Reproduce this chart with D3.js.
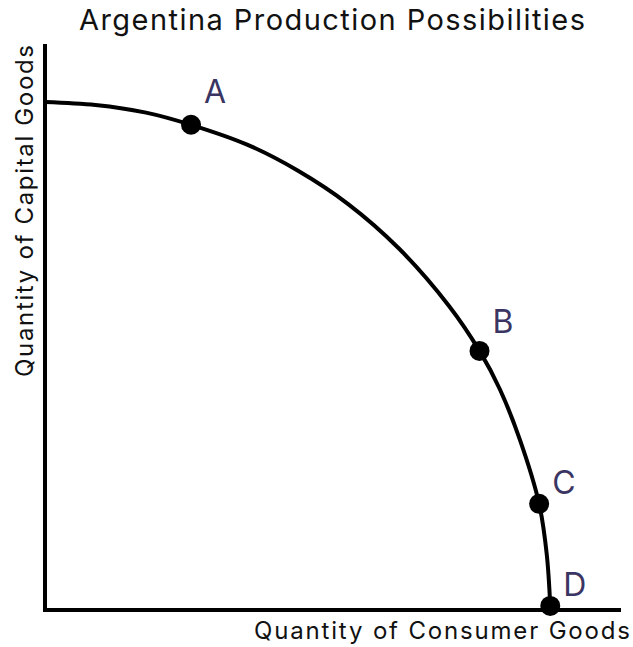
<!DOCTYPE html>
<html>
<head>
<meta charset="utf-8">
<script src="https://cdn.jsdelivr.net/npm/d3@7"></script>
<style>
  html, body { margin: 0; padding: 0; background: #fff; }
  svg { display: block; }
  text { font-family: "Inter", "Noto Sans", sans-serif; font-variant-ligatures: none; }
</style>
</head>
<body>
<svg id="chart" width="633" height="647"></svg>
<script>
// ---- data ----
const title = "Argentina Production Possibilities";
const xLabel = "Quantity of Consumer Goods";
const yLabel = "Quantity of Capital Goods";

// frontier curve, consumer goods (x) vs capital goods (y)
const curveX = [0, 10, 20, 28.9, 40, 50, 60, 70, 80, 86, 90, 94, 97.8, 99.3, 100];
const curveY = [100, 99.4, 97.9, 95.5, 91.6, 86.5, 79.9, 71.2, 59.8, 51.0, 43.5, 33.5, 20.9, 11, 0.8];

// labelled points
const pointNames = ["A", "B", "C", "D"];
const pointX = [28.9, 86.0, 97.8, 100];
const pointY = [95.5, 51.0, 20.9, 0.8];

const xMax = 114, yMax = 111.4;

// ---- drawing ----
const svg = d3.select("#chart");
const x = d3.scaleLinear().domain([0, xMax]).range([45, 621]);
const y = d3.scaleLinear().domain([0, yMax]).range([610, 44]);

svg.append("text")
  .attr("x", 332).attr("y", 30)
  .attr("text-anchor", "middle")
  .attr("font-size", 29)
  .attr("textLength", 506)
  .attr("lengthAdjust", "spacing")
  .attr("fill", "#111")
  .text(title);

// axes
svg.append("line")
  .attr("x1", x(0)).attr("y1", y(yMax))
  .attr("x2", x(0)).attr("y2", y(0) + 2)
  .attr("stroke", "#000").attr("stroke-width", 4);
svg.append("line")
  .attr("x1", x(0) - 2).attr("y1", y(0))
  .attr("x2", x(xMax)).attr("y2", y(0))
  .attr("stroke", "#000").attr("stroke-width", 4);

// axis labels
svg.append("text")
  .attr("x", 630).attr("y", 639)
  .attr("text-anchor", "end")
  .attr("font-size", 24)
  .attr("textLength", 376)
  .attr("lengthAdjust", "spacing")
  .attr("fill", "#111")
  .text(xLabel);
svg.append("text")
  .attr("transform", "translate(33,45) rotate(-90)")
  .attr("text-anchor", "end")
  .attr("font-size", 24)
  .attr("textLength", 332)
  .attr("lengthAdjust", "spacing")
  .attr("fill", "#111")
  .text(yLabel);

// frontier
const curveData = curveX.map((v, i) => [v, curveY[i]]);
const line = d3.line()
  .x(d => x(d[0])).y(d => y(d[1]))
  .curve(d3.curveCatmullRom.alpha(0.5));
svg.append("path")
  .datum(curveData)
  .attr("d", line)
  .attr("fill", "none")
  .attr("stroke", "#000")
  .attr("stroke-width", 4);

// points
const pts = pointNames.map((n, i) => ({ name: n, x: pointX[i], y: pointY[i] }));
svg.selectAll("circle.pt").data(pts).enter().append("circle")
  .attr("class", "pt")
  .attr("cx", d => x(d.x)).attr("cy", d => y(d.y))
  .attr("r", 10).attr("fill", "#000");

const labelDy = { A: -22, B: -18, C: -10, D: -10 };
svg.selectAll("text.pl").data(pts).enter().append("text")
  .attr("class", "pl")
  .attr("x", d => x(d.x) + 13)
  .attr("y", d => y(d.y) + labelDy[d.name])
  .attr("font-size", 32)
  .attr("fill", "#3a3562")
  .text(d => d.name);
</script>
</body>
</html>
